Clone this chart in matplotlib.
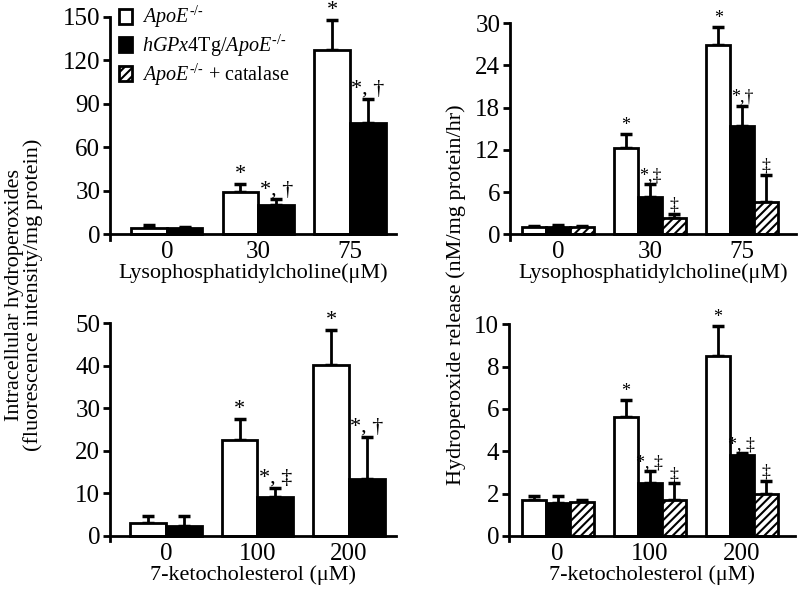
import numpy as np
import matplotlib
matplotlib.use("Agg")
import matplotlib.pyplot as plt
from matplotlib.patches import Patch

plt.rcParams['font.family'] = ['Liberation Serif', 'DejaVu Serif']
plt.rcParams['mathtext.fontset'] = 'custom'
plt.rcParams['mathtext.rm'] = 'Liberation Serif'
plt.rcParams['mathtext.it'] = 'Liberation Serif:italic'
plt.rcParams['hatch.linewidth'] = 1.5

# data
lpc_doses = ['0', '30', '75']
kc_doses = ['0', '100', '200']

tl_means = [[4.5, 29.2, 126.8], [4.1, 20.2, 77.0]]
tl_err = [[1.5, 5.3, 20.9], [0.9, 3.9, 16.5]]
tl_marks = [['', '*', '*'], ['', '*, †', '*, †']]

tr_means = [[1.0, 12.3, 26.9], [1.05, 5.3, 15.4], [1.0, 2.3, 4.6]]
tr_err = [[0.2, 2.0, 2.6], [0.25, 1.8, 2.9], [0.2, 0.6, 3.9]]
tr_marks = [['', '*', '*'], ['', '*,‡', '*,†'], ['', '‡', '‡']]

bl_means = [[3.0, 22.5, 40.1], [2.4, 9.2, 13.3]]
bl_err = [[1.7, 4.9, 8.3], [2.3, 2.1, 10.0]]
bl_marks = [['', '*', '*'], ['', '*, ‡', '*, †']]

br_means = [[1.7, 5.64, 8.5], [1.57, 2.49, 3.8], [1.6, 1.7, 1.98]]
br_err = [[0.2, 0.76, 1.4], [0.3, 0.58, 0.1], [0.1, 0.79, 0.62]]
br_marks = [['', '*', '*'], ['', '*, ‡', '*, ‡'], ['', '‡', '‡']]

legend_labels = [r'$\it{ApoE}^{\text{-/-}}$',
                 r'$\it{hGPx4}$Tg/$\it{ApoE}^{\text{-/-}}$',
                 r'$\it{ApoE}^{\text{-/-}}$ + catalase']
face = ['white', 'black', 'white']
hatches = [None, None, '////']

fig = plt.figure(figsize=(8, 5.96), dpi=100)


def panel(rect, means, errs, marks, doses, ymax, step, xlabel, xlim, mark_size):
    ax = fig.add_axes(rect)
    n = len(means)
    width = 0.78 / n
    x = np.arange(len(doses))
    for i in range(n):
        pos = x - 0.39 + width * (i + 0.5)
        m = np.array(means[i])
        e = np.array(errs[i])
        ax.errorbar(pos, m, yerr=[np.zeros_like(e), e], fmt='none',
                    ecolor='black', elinewidth=2, capsize=4, capthick=2.5, zorder=1)
        ax.bar(pos, m, width, color=face[i], edgecolor='black', linewidth=2,
               hatch=hatches[i], zorder=2)
        for j in range(len(doses)):
            if marks[i][j]:
                ax.annotate(marks[i][j], (pos[j], m[j] + e[j]), xytext=(0, 0),
                            textcoords='offset points', ha='center', va='bottom',
                            fontsize=mark_size)
    ax.set_xlim(*xlim)
    ax.set_ylim(-ymax * 0.025, ymax)
    ax.set_yticks(np.arange(0, ymax + step / 2, step))
    ax.set_xticks(x)
    ax.set_xticklabels(doses)
    ax.spines['top'].set_visible(False)
    ax.spines['right'].set_visible(False)
    ax.spines['bottom'].set_position(('data', 0))
    ax.spines['left'].set_linewidth(2)
    ax.spines['bottom'].set_linewidth(2)
    ax.tick_params(axis='y', direction='out', length=5, width=2, labelsize=18, pad=2)
    ax.tick_params(axis='x', length=0, labelsize=18, pad=5)
    ax.set_xlabel(xlabel, fontsize=16, labelpad=0)
    return ax


ax1 = panel([0.1375, 0.598, 0.357, 0.374], tl_means, tl_err, tl_marks, lpc_doses,
            150, 30, 'Lysophosphatidylcholine(μM)', (-0.62, 2.5), 16)
ax2 = panel([0.6375, 0.598, 0.357, 0.363], tr_means, tr_err, tr_marks, lpc_doses,
            30, 6, 'Lysophosphatidylcholine(μM)', (-0.52, 2.58), 13)
ax3 = panel([0.1375, 0.092, 0.357, 0.366], bl_means, bl_err, bl_marks, kc_doses,
            50, 10, '7-ketocholesterol (μM)', (-0.61, 2.51), 16)
ax4 = panel([0.636, 0.092, 0.358, 0.364], br_means, br_err, br_marks, kc_doses,
            10, 2, '7-ketocholesterol (μM)', (-0.53, 2.58), 13)

handles = [Patch(facecolor=face[i], edgecolor='black', linewidth=2, hatch=hatches[i])
           for i in range(3)]
ax1.legend(handles, legend_labels, loc='upper left', bbox_to_anchor=(-0.01, 1.11),
           frameon=False, fontsize=14.5, handlelength=0.65, handleheight=0.75,
           handletextpad=0.5, labelspacing=0.12, borderaxespad=0.2)

fig.text(0.03, 0.505, 'Intracellular hydroperoxides\n(fluorescence intensity/mg protein)',
         rotation=90, ha='center', va='center', fontsize=16, linespacing=1.0)
fig.text(0.57, 0.505, 'Hydroperoxide release (nM/mg protein/hr)',
         rotation=90, ha='center', va='center', fontsize=16)

fig.savefig('out.png', dpi=100)
